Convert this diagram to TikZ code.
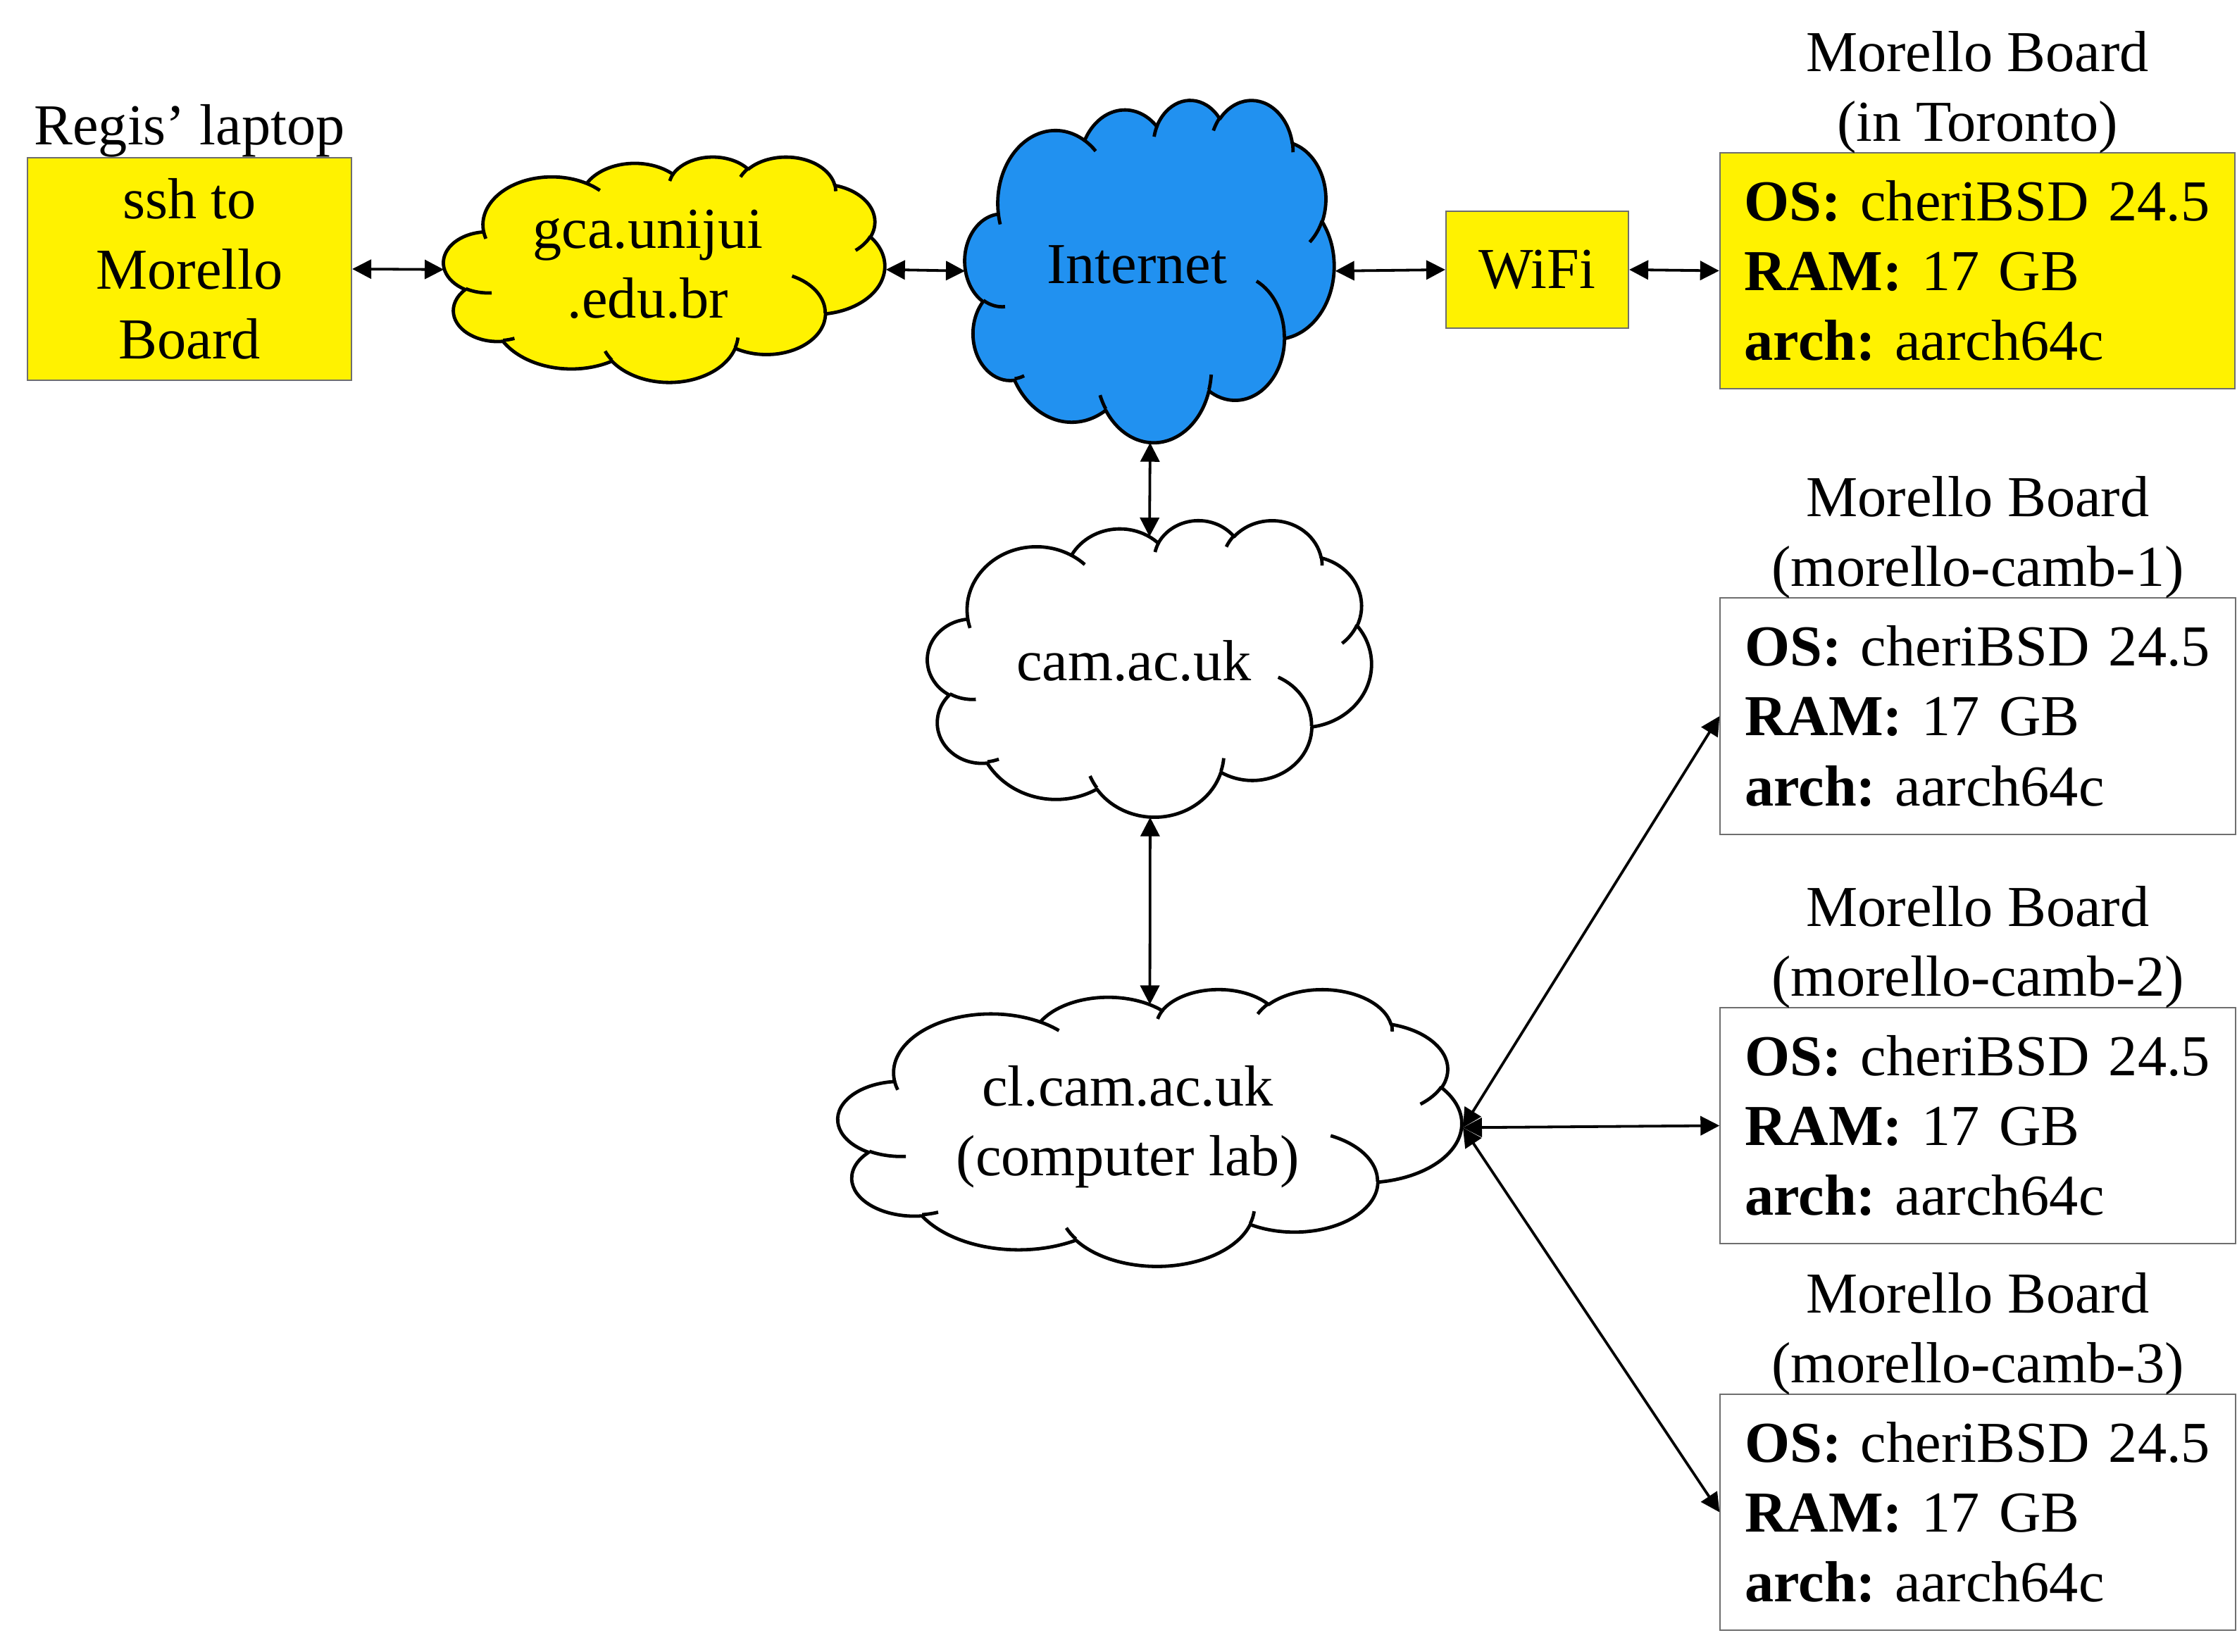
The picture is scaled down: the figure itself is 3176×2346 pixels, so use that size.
\documentclass[tikz,border=0pt]{standalone}
\usepackage{fontspec}
\setmainfont{Liberation Serif}
\usetikzlibrary{arrows.meta}
\definecolor{inetblue}{RGB}{33,145,240}
\definecolor{boxgray}{RGB}{110,110,110}
\frenchspacing

% OOXML arc angles are "visual" angles; convert to parametric ones
\pgfmathdeclarefunction{vp}{3}{%
  \begingroup
    \pgfmathparse{atan2((#2)*sin(#1),(#3)*cos(#1))-(#1)}%
    \let\vpd\pgfmathresult
    \pgfmathparse{(#1)+\vpd-360*round(\vpd/360)}%
    \pgfmathsmuggle\pgfmathresult
  \endgroup}
\newcommand\oa[4]{arc[x radius=#1, y radius=#2, start angle={vp(#3,#1,#2)}, end angle={vp(#3+#4,#1,#2)}]}

% cloud: name, x0, y0, width, height, fill
\newcommand\mkcloud[6]{%
  \begin{scope}[shift={(#2,#3)}, xscale=#4/43.2, yscale=#5/43.2]
    \draw[cloudline, fill=#6] (3.9,14.37)
      \oa{6.753}{9.19}{-190.487483}{123.780533}
      \oa{5.333}{7.267}{-144.102383}{89.945233}
      \oa{4.365}{5.945}{-145.807917}{99.723017}
      \oa{4.857}{6.595}{-130.986067}{117.241733}
      \oa{5.333}{7.273}{-78.708883}{109.026917}
      \oa{6.775}{9.22}{-46.26725}{130.269}
      \oa{5.785}{7.867}{0.625017}{114.033333}
      \oa{6.752}{9.215}{22.4516}{115.17255}
      \oa{7.72}{10.543}{66.242633}{75.711017}
      \oa{4.36}{5.918}{-274.942083}{146.735567}
      \oa{4.345}{5.945}{-246.8285}{152.51885}
      -- cycle;
    \draw[cloudline]
      (4.693,26.177) \oa{4.345}{5.945}{86.742}{26.4295}
      (6.928,34.899) \oa{4.36}{5.918}{73.61047}{11.44747}
      (16.478,39.09) \oa{6.752}{9.215}{137.62415}{14.0811}
      (28.827,34.751) \oa{6.752}{9.215}{6.45327}{15.99835}
      (34.129,22.954) \oa{5.785}{7.867}{-70.29235}{70.91737}
      (41.798,15.354) \oa{5.333}{7.273}{30.31803}{27.7515}
      (38.324,5.426) \oa{4.857}{6.595}{-13.74433}{14.8589}
      (29.078,3.952) \oa{4.857}{6.595}{-149.18145}{18.19537}
      (22.141,4.72) \oa{4.365}{5.945}{-163.49427}{17.68635}
      (14,5.192) \oa{6.753}{9.19}{-66.70695}{12.31935}
      (4.127,15.789) \oa{6.753}{9.19}{157.65435}{11.85817};
  \end{scope}
  \node[anchor=north west, inner sep=0pt, minimum width={#4*0.1mm}, minimum height={#5*0.1mm}] (#1) at (#2,#3) {};
  \coordinate (#1-top) at ({#2+#4/2},{#3+0.0572*#5});
}

\newcommand\specs{\textbf{OS:}\ cheriBSD 24.5\\\textbf{RAM:}\ 17 GB\\\textbf{arch:}\ aarch64c}

\tikzset{
  every node/.style={font=\fontsize{23.4}{28.2}\selectfont},
  cloudline/.style={draw=black, line width=0.48mm, line join=round},
  bx/.style={draw=boxgray, line width=0.2mm, inner ysep=0pt},
  spec/.style={bx, text width=66.1mm, inner xsep=3.5mm, minimum height=33.5mm, align=left},
  lbl/.style={inner sep=0pt, align=center},
  ctext/.style={inner sep=0pt, align=center},
  link/.style={line width=0.38mm, arrows={Triangle[length=2.7mm,width=2.7mm]-Triangle[length=2.7mm,width=2.7mm]}}
}

\begin{document}
\begin{tikzpicture}[x=0.01cm, y=-0.01cm]
\useasboundingbox (0,0) rectangle (3176,2346);
\fill[white] (0,0) rectangle (3176,2346);

% clouds
\mkcloud{gca}{630}{222}{626}{320}{yellow}
\mkcloud{inet}{1370}{141}{524}{486}{inetblue}
\mkcloud{cam}{1317}{738}{630}{421}{white}
\mkcloud{cl}{1190}{1404}{885}{393}{white}

\node[ctext] (gca-txt) at (920,375.5) {gca.unijui\\.edu.br};
\node[ctext, anchor=base] (inet-txt) at (1614,403) {Internet};
\node[ctext, anchor=base] (cam-txt) at (1610,966) {cam.ac.uk};
\node[ctext] (cl-txt) at (1601,1600.5) {cl.cam.ac.uk\\(computer lab)};

% boxes
\node[bx, fill=yellow, minimum width=46mm, minimum height=31.6mm, align=center] (laptop) at (269,382) {ssh to\\Morello\\Board};
\node[lbl, anchor=south] (laptop-lbl) at ([yshift=-0.1mm]laptop.north) {Regis’ laptop};

\node[bx, fill=yellow, minimum width=25.9mm, minimum height=16.6mm] (wifi) at (2182.5,383) {WiFi};

\node[spec, fill=yellow] (tor) at (2807.5,384.5) {\specs};
\node[lbl, anchor=south] (tor-lbl) at ([yshift=-0.25mm]tor.north) {Morello Board\\(in Toronto)};

\node[spec, fill=white] (b1) at (2808,1017) {\specs};
\node[lbl, anchor=south] (b1-lbl) at ([yshift=-0.25mm]b1.north) {Morello Board\\(morello-camb-1)};

\node[spec, fill=white] (b2) at (2808,1598.5) {\specs};
\node[lbl, anchor=south] (b2-lbl) at ([yshift=-0.25mm]b2.north) {Morello Board\\(morello-camb-2)};

\node[spec, fill=white] (b3) at (2808,2147.5) {\specs};
\node[lbl, anchor=south] (b3-lbl) at ([yshift=-0.25mm]b3.north) {Morello Board\\(morello-camb-3)};

% connectors
\draw[link] (laptop.east) -- (gca.west);
\draw[link] (gca.east) -- (inet.west);
\draw[link] (inet.east) -- (wifi.west);
\draw[link] (wifi.east) -- (tor.west);
\draw[link] (inet.south) -- (cam-top);
\draw[link] (cam.south) -- (cl-top);
\draw[link] (cl.east) -- (b1.west);
\draw[link] (cl.east) -- (b2.west);
\draw[link] (cl.east) -- (b3.west);
\end{tikzpicture}
\end{document}
